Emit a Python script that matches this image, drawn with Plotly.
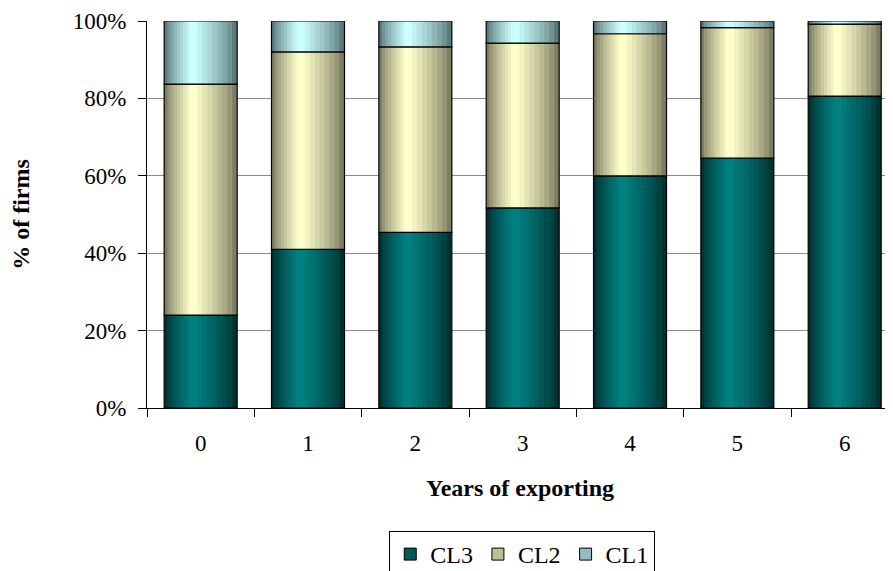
import plotly.graph_objects as go

years = ["0", "1", "2", "3", "4", "5", "6"]
cl3 = [0.240, 0.410, 0.454, 0.517, 0.600, 0.646, 0.806]
cl2 = [0.597, 0.510, 0.479, 0.426, 0.367, 0.337, 0.186]
cl1 = [round(1 - a - b, 3) for a, b in zip(cl3, cl2)]

series = [
    ("CL3", cl3, (0, 128, 128), (0, 50, 50)),
    ("CL2", cl2, (255, 255, 204), (125, 125, 98)),
    ("CL1", cl1, (204, 255, 255), (92, 122, 124)),
]

W = 0.68
N = 9
FONT = "Liberation Serif, Times New Roman, serif"

fig = go.Figure()
bases = [0.0] * len(years)
for name, vals, bright, dark in series:
    base = list(bases)
    for k in range(N):
        f = 1 - k / N
        c = 0.5 - 0.1 * (k / (N - 1))
        t = (k / (N - 1)) ** 0.8
        col = tuple(round(d + (b - d) * t) for b, d in zip(bright, dark))
        fig.add_trace(go.Bar(
            x=years, y=vals, base=base, width=W * f,
            offset=-W / 2 + W * (c - f / 2),
            marker=dict(color="rgb(%d,%d,%d)" % col, line=dict(width=0)),
            showlegend=False, hoverinfo="skip",
        ))
    fig.add_trace(go.Bar(
        x=years, y=vals, base=base, width=W, offset=-W / 2,
        marker=dict(color="rgba(0,0,0,0)", line=dict(color="black", width=1.2)),
        showlegend=False, name=name,
    ))
    fig.add_trace(go.Bar(
        x=[None], y=[None], name=name,
        marker=dict(color="rgb(%d,%d,%d)" % tuple(round((b + d) / 2) for b, d in zip(bright, dark)),
                    line=dict(color="black", width=1)),
    ))
    bases = [b + v for b, v in zip(bases, vals)]

FIG_W, FIG_H = 885, 563
fig.update_layout(
    width=FIG_W, height=FIG_H,
    barmode="overlay",
    margin=dict(l=139, r=0, t=13, b=163),
    paper_bgcolor="white", plot_bgcolor="white",
    font=dict(family=FONT, size=23, color="black"),
    legend=dict(orientation="h", x=0.503, xanchor="center",
                yref="container", y=1 - 523 / FIG_H, yanchor="top",
                bordercolor="black", borderwidth=1, font=dict(size=24),
                itemwidth=30, tracegroupgap=0),
    showlegend=True,
)
fig.update_xaxes(
    type="category", range=[-0.5, 6.45], automargin=False,
    showline=True, linecolor="black", linewidth=1,
    ticks="outside", tickson="boundaries", ticklen=8, tickcolor="black",
    ticklabelstandoff=14,
    showgrid=False,
    title=dict(text="<b>Years of exporting</b>", standoff=24, font=dict(size=24)),
)
fig.update_yaxes(
    range=[0, 1], tickvals=[0, 0.2, 0.4, 0.6, 0.8, 1.0], tickformat=".0%",
    automargin=False,
    showline=True, linecolor="black", linewidth=1,
    ticks="outside", ticklen=8, tickcolor="black",
    ticklabelstandoff=7,
    showgrid=True, gridcolor="#8c8c8c", gridwidth=1,
    zeroline=False,
    title=dict(text="<b>% of firms</b>", standoff=36, font=dict(size=24)),
)

fig.write_html("out.html")
